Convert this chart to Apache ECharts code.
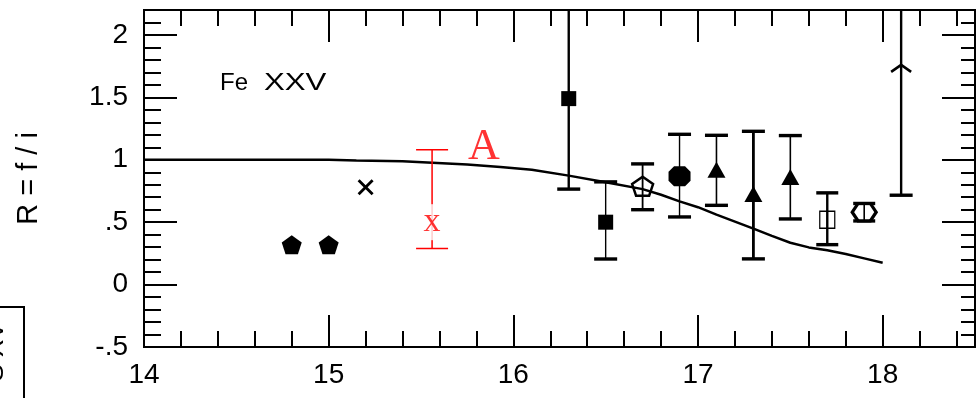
<!DOCTYPE html>
<html>
<head>
<meta charset="utf-8">
<script src="https://cdn.jsdelivr.net/npm/echarts@6.0.0/dist/echarts.min.js"></script>
<style>
  html, body { margin: 0; padding: 0; background: #fff; }
  #chart { width: 978px; height: 398px; }
</style>
</head>
<body>
<div id="chart"></div>
<script>
// ---- axis ranges and tick text ----
const X_MIN = 14, X_MAX = 18.5;
const Y_MIN = -0.5, Y_MAX = 2.2;
const xTickText = { '14': '14', '15': '15', '16': '16', '17': '17', '18': '18' };
const yTickText = { '-0.5': '-.5', '0': '0', '0.5': '.5', '1': '1', '1.5': '1.5', '2': '2' };

// ---- model curve R(x) ----
const curveX = [14.0, 14.5, 15.0, 15.15, 15.4, 15.75, 15.93, 16.1, 16.3, 16.5, 16.7, 16.8, 16.9, 17.0, 17.1, 17.2, 17.3, 17.4, 17.5, 17.6, 17.7, 17.8, 17.9, 18.0];
const curveR = [1.0, 1.0, 1.0, 0.995, 0.988, 0.962, 0.943, 0.92, 0.873, 0.82, 0.765, 0.72, 0.667, 0.62, 0.56, 0.505, 0.449, 0.39, 0.335, 0.298, 0.275, 0.245, 0.21, 0.175];

// ---- measurements: position, ratio, lower end, upper end (null = open upward) ----
const pentX = [14.8, 15.0];
const pentR = [0.32, 0.32];

const crossX = [15.2];
const crossR = [0.78];

const redX = [15.56];
const redR = [0.5];
const redLo = [0.29];
const redHi = [1.08];

const squareX = [16.3, 16.5];
const squareR = [1.49, 0.50];
const squareLo = [0.765, 0.205];
const squareHi = [null, 0.823];

const pentOpenX = [16.7];
const pentOpenR = [0.788];
const pentOpenLo = [0.60];
const pentOpenHi = [0.967];

const dotX = [16.9];
const dotR = [0.868];
const dotLo = [0.542];
const dotHi = [1.204];

const triX = [17.1, 17.3, 17.5];
const triR = [0.92, 0.725, 0.863];
const triLo = [0.635, 0.206, 0.526];
const triHi = [1.196, 1.228, 1.194];

const squareOpenX = [17.7];
const squareOpenR = [0.52];
const squareOpenLo = [0.32];
const squareOpenHi = [0.735];

const hexOpenX = [17.9];
const hexOpenR = [0.58];
const hexOpenLo = [0.51];
const hexOpenHi = [0.65];

const limitX = [18.1];
const limitLo = [0.716];
const limitArrowR = [1.76];

const labelAX = [15.84];
const labelAR = [1.1];

// ---- helpers ----
const zip = (xs, ys) => xs.map((x, i) => [x, ys[i]]);
const bars = (xs, lo, hi) => xs.map((x, i) => [x, lo[i], hi[i] == null ? Y_MAX : hi[i]]);

// heavier stems for these measurements
const heavyBarAt = new Set([16.3, 17.3, 17.7, 18.1]);

const PENTAGON = 'path://M0,-10 L9.51,-3.09 L5.88,8.09 L-5.88,8.09 L-9.51,-3.09 Z';
const OCTAGON = 'path://M-5,-9 L5,-9 L10,-4 L10,4 L5,9 L-5,9 L-10,4 L-10,-4 Z';
const HEXAGON = 'path://M-6,-10 L6,-10 L12,0 L6,10 L-6,10 L-12,0 Z';
const CROSS = 'path://M-8,-6 L-6,-8 L0,-2 L6,-8 L8,-6 L2,0 L8,6 L6,8 L0,2 L-6,8 L-8,6 L-2,0 Z';

function errorBarRender(color, capW, capT, thin, heavy) {
  return function (params, api) {
    const x = api.value(0), lo = api.value(1), hi = api.value(2);
    const cs = params.coordSys;
    const pLo = api.coord([x, lo]);
    const openTop = !(hi < Y_MAX);
    const pHi = openTop ? [pLo[0], cs.y] : api.coord([x, hi]);
    const lw = heavyBarAt.has(x) ? heavy : thin;
    const children = [
      { type: 'line', shape: { x1: pLo[0], y1: pLo[1], x2: pHi[0], y2: pHi[1] }, style: { stroke: color, lineWidth: lw } },
      { type: 'line', shape: { x1: pLo[0] - capW / 2, y1: pLo[1], x2: pLo[0] + capW / 2, y2: pLo[1] }, style: { stroke: color, lineWidth: capT } }
    ];
    if (!openTop) {
      children.push({ type: 'line', shape: { x1: pHi[0] - capW / 2, y1: pHi[1], x2: pHi[0] + capW / 2, y2: pHi[1] }, style: { stroke: color, lineWidth: capT } });
    }
    return { type: 'group', children };
  };
}

function barSeries(data, color, capW, capT, thin, heavy) {
  return {
    type: 'custom', data, clip: true, z: 3,
    encode: { x: 0, y: [1, 2] },
    renderItem: errorBarRender(color, capW, capT, thin, heavy)
  };
}

function markerSeries(data, symbol, size, itemStyle, z) {
  return {
    type: 'scatter', data, symbol, symbolSize: size,
    itemStyle: Object.assign({ opacity: 1 }, itemStyle), z: z || 5, silent: true
  };
}

const BLACK = '#000';
const RED = '#ff0000';
const FILLED = { color: BLACK };
const OPEN = (w) => ({ color: 'rgba(255,255,255,0)', borderColor: BLACK, borderWidth: w });

const AXIS_LINE = { show: true, onZero: false, lineStyle: { color: BLACK, width: 2 } };
const NO_LABEL = { show: false };

function xAxisDef(position, interval, tickLen, withLabels) {
  return {
    type: 'value', position, min: X_MIN, max: X_MAX, interval,
    axisLine: AXIS_LINE,
    axisTick: { show: true, inside: true, length: tickLen, lineStyle: { color: BLACK, width: 2 } },
    splitLine: { show: false },
    axisLabel: withLabels ? {
      show: true, margin: 14, color: BLACK, fontSize: 28, fontFamily: 'Liberation Sans',
      formatter: (v) => xTickText[String(Math.round(v * 10) / 10)] || ''
    } : NO_LABEL
  };
}

function yAxisDef(position, interval, tickLen, withLabels) {
  const ax = {
    type: 'value', position, min: Y_MIN, max: Y_MAX, interval,
    axisLine: AXIS_LINE,
    axisTick: { show: true, inside: true, length: tickLen, lineStyle: { color: BLACK, width: 2 } },
    splitLine: { show: false },
    axisLabel: withLabels ? {
      show: true, margin: 16, color: BLACK, fontSize: 28, fontFamily: 'Liberation Sans',
      formatter: (v) => yTickText[String(Math.round(v * 10) / 10)] || ''
    } : NO_LABEL
  };
  if (withLabels) {
    Object.assign(ax, {
      name: 'R = f / i', nameLocation: 'middle', nameRotate: 90, nameGap: 101,
      nameTextStyle: { color: BLACK, fontSize: 29, fontFamily: 'Liberation Sans' }
    });
  }
  return ax;
}

const chart = echarts.init(document.getElementById('chart'), null, { renderer: 'canvas' });

chart.setOption({
  animation: false,
  backgroundColor: '#fff',
  grid: { left: 144, right: 3, top: 10, bottom: 51, containLabel: false },
  xAxis: [
    xAxisDef('bottom', 1, 32, true),
    xAxisDef('bottom', 0.2, 16, false),
    xAxisDef('top', 1, 32, false),
    xAxisDef('top', 0.2, 16, false)
  ],
  yAxis: [
    yAxisDef('left', 0.5, 33, true),
    yAxisDef('left', 0.1, 17, false),
    yAxisDef('right', 0.5, 33, false),
    yAxisDef('right', 0.1, 14, false)
  ],
  graphic: [
    { type: 'text', x: 220, y: 83, style: { text: 'Fe', font: '24px "Liberation Sans"', fill: BLACK, textVerticalAlign: 'middle' } },
    { type: 'text', x: 264, y: 83, scaleX: 1.3, style: { text: 'XXV', font: '24px "Liberation Sans"', fill: BLACK, textVerticalAlign: 'middle' } },
    { type: 'rect', shape: { x: -5, y: 307, width: 29, height: 100 }, style: { fill: 'none', stroke: BLACK, lineWidth: 2 } },
    { type: 'text', x: -4, y: 352, rotation: Math.PI / 2, style: { text: 'S XV', font: '26px "Liberation Sans"', fill: BLACK, textAlign: 'center', textVerticalAlign: 'middle' } }
  ],
  series: [
    {
      type: 'line', data: zip(curveX, curveR), showSymbol: false, symbol: 'none',
      lineStyle: { color: BLACK, width: 2.5 }, z: 2, silent: true
    },
    // error bars
    barSeries(bars(redX, redLo, redHi), RED, 32, 1.5, 1.5, 1.5),
    barSeries(bars(squareX, squareLo, squareHi), BLACK, 23, 3.4, 1.4, 2.4),
    barSeries(bars(pentOpenX, pentOpenLo, pentOpenHi), BLACK, 23, 3.4, 1.8, 1.8),
    barSeries(bars(dotX, dotLo, dotHi), BLACK, 23, 3.4, 1.4, 2.4),
    barSeries(bars(triX, triLo, triHi), BLACK, 23, 3.4, 1.6, 2.8),
    barSeries(bars(squareOpenX, squareOpenLo, squareOpenHi), BLACK, 22, 3.4, 1.4, 2.4),
    barSeries(bars(hexOpenX, hexOpenLo, hexOpenHi), BLACK, 22, 3.4, 1.6, 1.6),
    barSeries(bars(limitX, limitLo, limitX.map(() => null)), BLACK, 23, 3.4, 1.4, 2.4),
    // lower-limit arrowhead
    {
      type: 'custom', data: zip(limitX, limitArrowR), clip: true, z: 4,
      encode: { x: 0, y: 1 },
      renderItem: (params, api) => {
        const p = api.coord([api.value(0), api.value(1)]);
        return {
          type: 'polyline',
          shape: { points: [[p[0] - 10, p[1] + 7], [p[0], p[1]], [p[0] + 10, p[1] + 7]] },
          style: { stroke: BLACK, lineWidth: 2.6, fill: 'none' }
        };
      }
    },
    // markers
    markerSeries(zip(pentX, pentR), PENTAGON, [20, 19], FILLED),
    markerSeries(zip(crossX, crossR), CROSS, 16, FILLED),
    markerSeries(zip(squareX, squareR), 'rect', 15, FILLED),
    markerSeries(zip(pentOpenX, pentOpenR), PENTAGON, [21, 19], OPEN(2.4)),
    markerSeries(zip(dotX, dotR), OCTAGON, [22, 20], FILLED),
    markerSeries(zip(triX, triR), 'triangle', [18, 16], FILLED),
    markerSeries(zip(squareOpenX, squareOpenR), 'rect', [15, 17], OPEN(1.3)),
    markerSeries(zip(hexOpenX, hexOpenR), HEXAGON, [24, 18], OPEN(3)),
    // red "x" measurement symbol
    {
      type: 'scatter', data: zip(redX, redR), symbolSize: 1, itemStyle: { color: 'rgba(0,0,0,0)' }, z: 6, silent: true,
      label: {
        show: true, position: 'inside', formatter: 'x', color: RED,
        fontSize: 34, fontFamily: 'Liberation Serif', backgroundColor: '#fff', padding: [1, 2]
      }
    },
    // curve label
    {
      type: 'scatter', data: zip(labelAX, labelAR), symbolSize: 1, itemStyle: { color: 'rgba(0,0,0,0)' }, z: 6, silent: true,
      label: {
        show: true, position: 'inside', formatter: 'A', color: RED,
        fontSize: 44, fontFamily: 'Liberation Serif'
      }
    }
  ]
});
</script>
</body>
</html>
